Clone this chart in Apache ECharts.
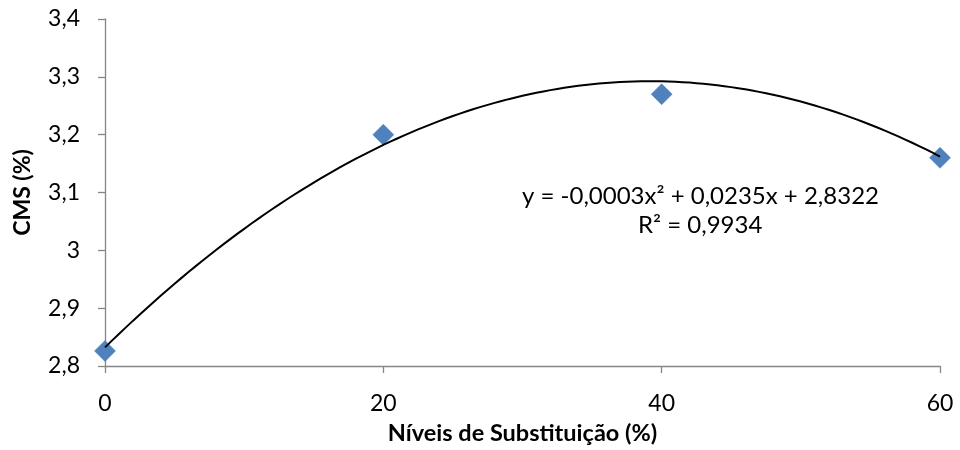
<!DOCTYPE html>
<html>
<head>
<meta charset="utf-8">
<script src="https://cdn.jsdelivr.net/npm/echarts@6/dist/echarts.min.js"></script>
<style>
html,body{margin:0;padding:0;background:#fff;}
#chart{width:960px;height:450px;}
</style>
</head>
<body>
<div id="chart"></div>
<script>
// Substitution levels (%) and measured CMS (%)
const levels = [0, 20, 40, 60];
const cmsValues = [2.826, 3.2, 3.27, 3.16];
// Quadratic fit coefficients: y = a*x^2 + b*x + c
const fitCoef = [-0.0003, 0.0235, 2.8322];
const fitR2 = 0.9934;
const xTicks = [0, 20, 40, 60];
const yTicks = [2.8, 2.9, 3.0, 3.1, 3.2, 3.3, 3.4];

const fmt = v => String(Math.round(v * 10000) / 10000).replace('.', ',');

// Sample the fitted curve across the axis range
const fitLine = [];
for (let x = levels[0]; x <= levels[levels.length - 1] + 1e-9; x += 0.5) {
  fitLine.push([x, fitCoef[0] * x * x + fitCoef[1] * x + fitCoef[2]]);
}

const FONT = 'Lato, "Open Sans", sans-serif';
const axisColor = '#868686';

const chart = echarts.init(document.getElementById('chart'));
chart.setOption({
  animation: false,
  backgroundColor: '#ffffff',
  grid: { left: 105, right: 20, top: 19, bottom: 80, containLabel: false },
  xAxis: {
    type: 'value', min: xTicks[0], max: xTicks[xTicks.length - 1], interval: 20,
    name: 'Níveis de Substituição (%)', nameLocation: 'middle', nameGap: 55,
    nameTextStyle: { fontFamily: FONT, fontWeight: 'bold', fontSize: 23.5, color: '#000' },
    axisLine: { show: true, lineStyle: { color: axisColor, width: 1.3 } },
    axisTick: { show: true, length: 7, lineStyle: { color: axisColor, width: 1.3 } },
    axisLabel: { fontFamily: FONT, fontSize: 23, color: '#000', margin: 26, formatter: fmt },
    splitLine: { show: false }
  },
  yAxis: {
    type: 'value', min: yTicks[0], max: yTicks[yTicks.length - 1], interval: 0.1,
    name: 'CMS (%)', nameLocation: 'middle', nameGap: 71, nameRotate: 90,
    nameTextStyle: { fontFamily: FONT, fontWeight: 'bold', fontSize: 23, color: '#000' },
    axisLine: { show: true, lineStyle: { color: axisColor, width: 1.3 } },
    axisTick: { show: true, length: 7, lineStyle: { color: axisColor, width: 1.3 } },
    axisLabel: { fontFamily: FONT, fontSize: 23, color: '#000', margin: 25, formatter: fmt },
    splitLine: { show: false }
  },
  series: [
    {
      type: 'line', data: fitLine, showSymbol: false, smooth: false,
      lineStyle: { color: '#000', width: 2 }, silent: true, z: 2
    },
    {
      type: 'scatter', data: levels.map((x, i) => [x, cmsValues[i]]),
      symbol: 'diamond', symbolSize: [21, 21],
      itemStyle: { color: '#4F81BD', opacity: 1, borderColor: '#4A7EBB', borderWidth: 0.5 }, z: 1
    }
  ],
  graphic: [
    {
      type: 'text', left: 522, top: 184,
      style: {
        text: 'y = ' + fmt(fitCoef[0]) + 'x² + ' + fmt(fitCoef[1]) + 'x + ' + fmt(fitCoef[2]),
        font: '24px ' + FONT, fill: '#000'
      }
    },
    {
      type: 'text', left: 638, top: 213,
      style: { text: 'R² = ' + fmt(fitR2), font: '24px ' + FONT, fill: '#000' }
    }
  ]
});
</script>
</body>
</html>
